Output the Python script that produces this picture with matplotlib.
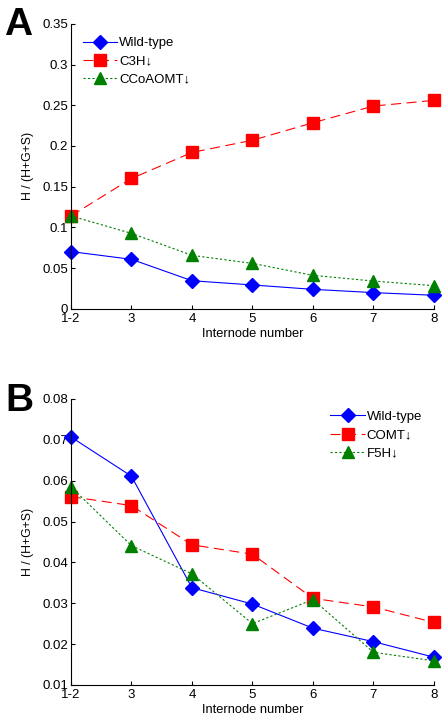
import matplotlib
matplotlib.use("Agg")
import matplotlib.pyplot as plt

plt.rcParams['font.family'] = ['Liberation Sans', 'DejaVu Sans']

x_labels = ["1-2", "3", "4", "5", "6", "7", "8"]

# Panel A
a_wt = [0.0702, 0.0607, 0.0344, 0.0292, 0.0238, 0.0198, 0.0165]
a_c3h = [0.114, 0.160, 0.192, 0.207, 0.2285, 0.249, 0.256]
a_ccoaomt = [0.114, 0.0926, 0.0656, 0.0557, 0.041, 0.034, 0.0283]

# Panel B
b_wt = [0.0707, 0.0611, 0.0338, 0.0298, 0.0239, 0.0206, 0.0168]
b_comt = [0.0561, 0.0539, 0.0443, 0.0420, 0.0312, 0.0291, 0.0253]
b_f5h = [0.0585, 0.0441, 0.0372, 0.0250, 0.0309, 0.0180, 0.0159]

fig = plt.figure(figsize=(4.46, 7.23), dpi=100)
axA = fig.add_axes([0.159, 0.573, 0.814, 0.394])
axB = fig.add_axes([0.159, 0.0526, 0.814, 0.3956])

xs = list(range(1, len(x_labels) + 1))
fs = 9.5


def style(ax, ylim, yticks, yfmt):
    ax.set_xlim(1, 7)
    ax.set_ylim(*ylim)
    ax.set_xticks(xs)
    ax.set_xticklabels(x_labels, fontsize=fs)
    ax.set_yticks(yticks)
    ax.set_yticklabels([yfmt(v) for v in yticks], fontsize=fs)
    for s in ['top', 'right']:
        ax.spines[s].set_visible(False)
    for s in ['left', 'bottom']:
        ax.spines[s].set_linewidth(0.8)
    ax.tick_params(direction='in', length=3, width=0.8, pad=2)
    ax.tick_params(axis='x', pad=3)
    ax.set_xlabel("Internode number", fontsize=9.3, labelpad=2)
    ax.set_ylabel("H / (H+G+S)", fontsize=8.8, labelpad=6)


def fmtA(v):
    if abs(v) < 1e-9:
        return "0"
    return ("%.2f" % v).rstrip('0').rstrip('.')


def fmtB(v):
    return "%.2f" % v


def draw(ax, wt, red, green, labels):
    ax.plot(xs, wt, color='blue', marker='D', ms=7, lw=0.8, label=labels[0])
    ax.plot(xs, red, color='red', marker='s', ms=8.5, lw=0.8, dashes=(9, 5), label=labels[1])
    ax.plot(xs, green, color='green', marker='^', ms=9, lw=0.8, dashes=(2, 2), label=labels[2])
    for ln in ax.lines:
        ln.set_markerfacecolor(ln.get_color())
        ln.set_markeredgecolor(ln.get_color())
        ln.set_clip_on(False)


draw(axA, a_wt, a_c3h, a_ccoaomt, ['Wild-type', 'C3H↓', 'CCoAOMT↓'])
style(axA, (0, 0.35), [0, 0.05, 0.1, 0.15, 0.2, 0.25, 0.3, 0.35], fmtA)
axA.legend(loc='upper left', frameon=False, fontsize=fs, handlelength=2.6,
           handletextpad=0.15, labelspacing=0.45, bbox_to_anchor=(0.0, 0.995))

draw(axB, b_wt, b_comt, b_f5h, ['Wild-type', 'COMT↓', 'F5H↓'])
style(axB, (0.01, 0.08), [0.01, 0.02, 0.03, 0.04, 0.05, 0.06, 0.07, 0.08], fmtB)
axB.legend(loc='upper right', frameon=False, fontsize=fs, handlelength=2.6,
           handletextpad=0.15, labelspacing=0.45, bbox_to_anchor=(1.0, 1.0))

fig.text(0.008, 0.99, "A", fontsize=28, fontweight='bold', va='top', ha='left')
fig.text(0.012, 0.47, "B", fontsize=28, fontweight='bold', va='top', ha='left')

fig.savefig("out.png", dpi=100)
